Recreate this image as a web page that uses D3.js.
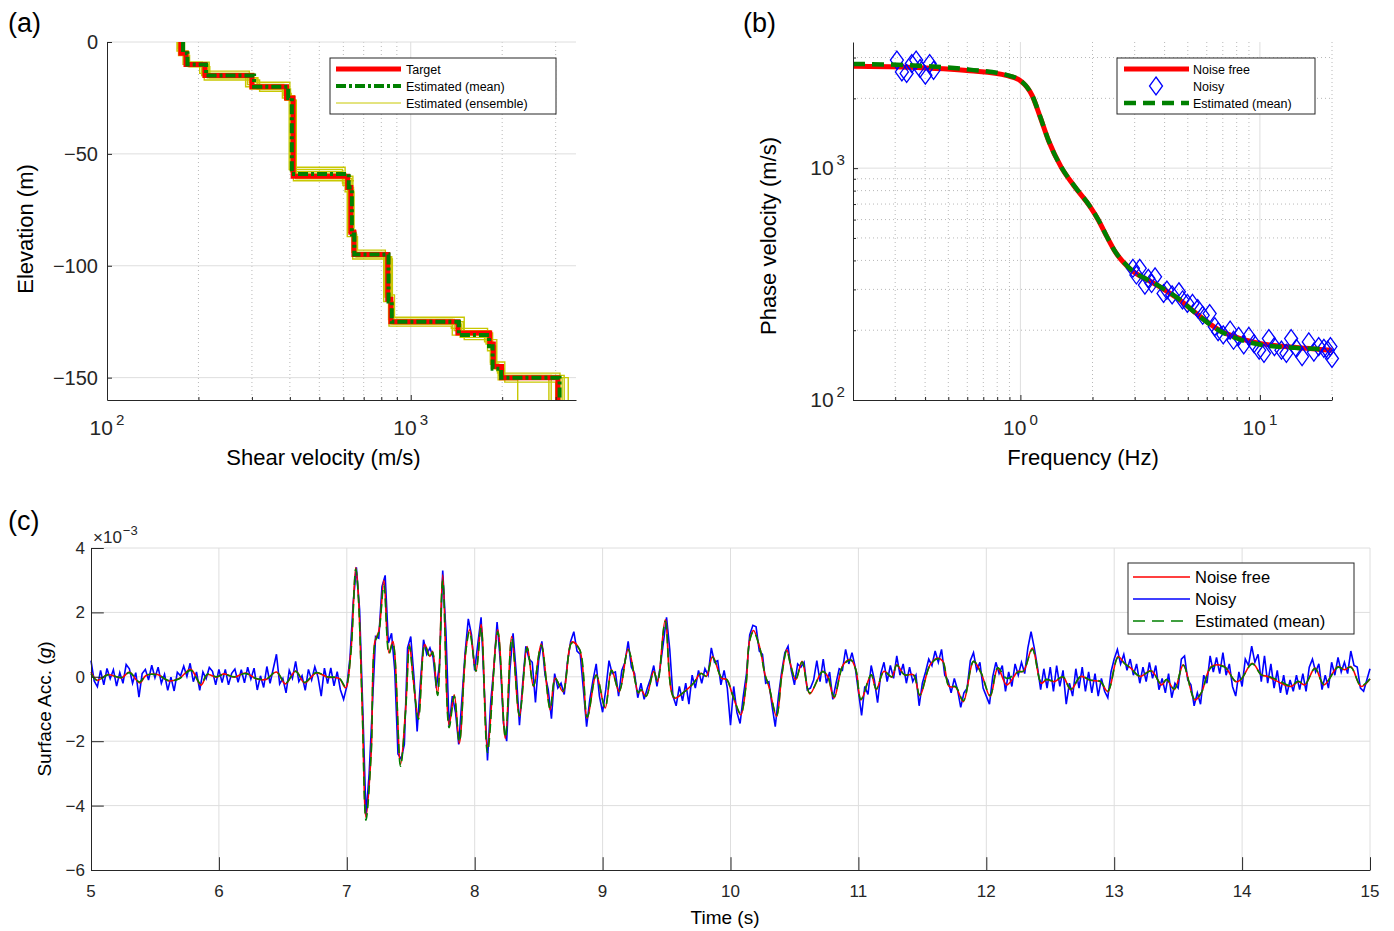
<!DOCTYPE html>
<html>
<head>
<meta charset="utf-8">
<script src="https://cdn.jsdelivr.net/npm/d3@7"></script>
<style>
  body { margin: 0; background: #fff; }
  svg { font-family: "Liberation Sans", Arial, Helvetica, sans-serif; }
</style>
</head>
<body>
<svg id="fig" width="1394" height="931"></svg>
<script>
// ---------------- data : (a) shear velocity profiles ----------------
const profileBottom = 160;
const targetTops = [0, 5, 10, 15, 20, 25, 60, 65, 85, 95, 115, 125, 130, 135, 145, 150];
const targetVs   = [175, 182, 210, 300, 390, 410, 620, 635, 650, 840, 860, 1430, 1820, 1870, 1990, 3050];
const meanTops   = [0, 5, 10, 15, 20, 25, 59, 65, 86, 95, 116, 125, 131, 136, 146, 150];
const meanVs     = [178, 184, 212, 305, 395, 406, 625, 640, 652, 845, 866, 1440, 1810, 1860, 1985, 3090];
const ensembleTops = [
  [0, 4, 10, 14, 19, 24, 58, 64, 84, 94, 114, 124, 129, 134, 144, 149],
  [0, 6, 11, 16, 21, 26, 61, 66, 86, 96, 116, 126, 130, 136, 146, 150],
  [0, 5, 9, 15, 20, 25, 57, 63, 85, 94, 116, 124, 131, 135, 144, 151],
  [0, 5, 10, 16, 20, 24, 60, 66, 84, 96, 114, 125, 129, 137, 145, 149],
  [0, 4, 11, 15, 21, 25, 59, 64, 86, 95, 115, 126, 130, 134, 146, 150],
  [0, 6, 10, 14, 20, 26, 61, 65, 85, 95, 117, 125, 132, 136, 145, 150],
  [0, 5, 11, 17, 22, 23, 56, 67, 83, 97, 118, 127, 128, 138, 143, 152],
  [0, 3, 9, 13, 18, 27, 62, 62, 87, 93, 113, 123, 133, 133, 147, 148]
];
const ensembleVs = [
  [170, 178, 202, 290, 382, 402, 598, 622, 640, 822, 845, 1390, 1750, 1830, 1950, 2900],
  [180, 187, 218, 312, 402, 418, 640, 648, 664, 856, 876, 1470, 1860, 1910, 2030, 3150],
  [176, 183, 206, 286, 378, 398, 596, 620, 646, 815, 852, 1370, 1770, 1845, 1940, 2250],
  [174, 180, 214, 314, 398, 414, 645, 628, 657, 866, 868, 1490, 1835, 1885, 2005, 3200],
  [177, 185, 205, 296, 392, 408, 612, 640, 653, 832, 860, 1415, 1800, 1862, 1978, 2850],
  [172, 182, 216, 304, 386, 420, 628, 648, 661, 848, 880, 1455, 1845, 1895, 2015, 3300],
  [179, 186, 209, 318, 384, 404, 608, 650, 644, 870, 848, 1360, 1790, 1830, 2040, 3000],
  [171, 179, 217, 294, 400, 411, 650, 618, 668, 825, 884, 1500, 1870, 1920, 1930, 3100]
];

// ---------------- data : (b) dispersion curves ----------------
const noiseFreeFreq = [0.2, 0.336, 0.614, 0.88, 1.0, 1.12, 1.21, 1.31, 1.48, 1.67, 1.96, 2.12, 2.30, 2.49, 2.81, 3.72, 4.54, 5.55, 6.78, 8.29, 10.1, 13.9, 20];
const noiseFreeVel  = [2748, 2724, 2630, 2505, 2383, 2055, 1660, 1316, 1010, 842, 679, 595, 505, 435, 375, 313, 274, 232, 200, 184, 175, 169, 164];
const meanFreq = [0.2, 0.336, 0.614, 0.88, 1.0, 1.12, 1.21, 1.31, 1.48, 1.67, 1.96, 2.12, 2.30, 2.49, 2.81, 3.72, 4.54, 5.55, 6.78, 8.29, 10.1, 13.9, 18];
const meanVel  = [2815, 2780, 2660, 2520, 2390, 2060, 1665, 1318, 1012, 845, 680, 596, 505, 436, 376, 314, 275, 231, 199, 182, 173, 168, 166];
const noisyFreq = [0.305, 0.320, 0.335, 0.352, 0.367, 0.381, 0.401, 0.418, 0.434,
  2.95, 3.05, 3.15, 3.31, 3.42, 3.53, 3.65, 3.96, 4.09, 4.30, 4.59, 4.75, 4.98, 5.23, 5.50, 5.77, 6.17, 6.48, 6.69, 7.03,
  7.51, 7.76, 8.15, 8.56, 8.99, 9.45, 9.93, 10.4, 10.9, 11.5, 12.3, 12.9, 13.5, 14.2, 15.0, 16.0, 16.8, 17.6, 18.5, 19.2, 19.7, 20.0];
const noisyVel = [2925, 2601, 2560, 2825, 2925, 2690, 2517, 2825, 2643,
  370, 346, 370, 313, 335, 318, 340, 288, 298, 284, 293, 270, 261, 261, 248, 232, 236, 207, 197, 191,
  200, 181, 188, 173, 188, 175, 164, 159, 184, 170, 164, 159, 184, 167, 154, 178, 161, 170, 167, 164, 170, 151];

// ---------------- data : (c) surface acceleration (x 1e-3 g) ----------------
const noiseFreeT = [5.00,5.05,5.13,5.24,5.30,5.38,5.43,5.52,5.61,5.69,5.78,5.86,5.91,5.98,6.04,6.12,6.21,6.29,6.37,6.45,
  6.52,6.60,6.67,6.76,6.85,6.94,6.99,7.03,7.07,7.09,7.12,7.15,7.19,7.22,7.25,7.29,7.33,7.36,7.42,7.46,
  7.49,7.52,7.56,7.61,7.65,7.67,7.71,7.75,7.80,7.84,7.88,7.93,7.96,8.01,8.05,8.10,8.18,8.24,8.29,8.35,
  8.41,8.46,8.52,8.59,8.63,8.69,8.76,8.82,8.88,8.95,9.02,9.07,9.13,9.20,9.28,9.30,9.34,9.40,9.43,9.49,
  9.56,9.64,9.71,9.77,9.81,9.86,9.93,9.97,10.02,10.08,10.12,10.15,10.18,10.23,10.27,10.30,10.36,10.40,10.44,10.47,
  10.51,10.56,10.62,10.72,10.76,10.81,10.88,10.94,10.98,11.02,11.10,11.14,11.20,11.26,11.30,11.36,11.43,11.48,11.56,11.62,
  11.66,11.71,11.76,11.82,11.90,11.96,12.03,12.09,12.16,12.25,12.29,12.36,12.43,12.47,12.53,12.60,12.66,12.74,12.81,12.89,
  12.95,13.03,13.08,13.13,13.20,13.29,13.37,13.41,13.47,13.54,13.63,13.68,13.76,13.86,13.95,13.99,14.08,14.15,14.20,14.28,
  14.38,14.44,14.49,14.57,14.64,14.75,14.80,14.85,14.93,15.00];
const noiseFreeAcc = [0.15,-0.11,0.07,-0.03,0.15,-0.19,0.04,0.07,-0.13,-0.05,0.23,-0.26,0.07,-0.01,0.09,-0.01,0.12,-0.06,-0.08,0.15,
  -0.22,0.18,-0.19,0.12,-0.01,-0.05,-0.34,0.69,3.39,2.55,-0.86,-4.36,-2.40,1.10,1.41,3.00,0.74,1.10,-2.72,-1.00,
  1.00,-0.10,-1.28,1.00,0.63,0.79,-0.56,3.17,-1.49,-0.56,-2.06,0.79,1.46,0.17,1.62,-2.17,1.46,-1.91,1.25,-1.23,
  0.94,-0.30,1.02,-1.03,-0.04,-0.46,1.08,0.84,-1.28,0.06,-0.97,0.22,-0.46,0.86,-0.51,-0.40,-0.61,0.17,-0.15,1.77,
  -0.66,-0.46,-0.20,0.11,0.01,0.63,-0.04,-0.09,-0.61,-1.18,-0.30,1.15,1.44,0.89,0.06,-0.30,-1.23,0.01,0.84,0.37,
  -0.09,0.48,-0.53,0.17,0.01,-0.66,0.37,0.53,0.22,-0.72,0.06,-0.40,0.17,-0.01,0.37,0.06,0.06,-0.59,0.37,0.58,
  0.48,-0.30,-0.32,-0.77,0.48,0.11,-0.61,0.27,-0.25,0.17,0.17,0.89,-0.20,-0.09,-0.15,-0.01,-0.40,0.01,-0.11,-0.15,
  -0.46,0.63,0.42,0.27,0.01,0.19,-0.25,-0.09,-0.40,0.37,-0.72,-0.51,0.32,0.32,-0.15,-0.09,0.42,0.06,0.01,-0.15,
  -0.30,-0.15,-0.25,0.27,-0.25,0.32,0.22,0.32,-0.30,-0.07];
const estMeanAcc = [0.10,-0.12,0.06,-0.02,0.13,-0.16,0.05,0.06,-0.12,-0.06,0.20,-0.22,0.08,0.00,0.08,0.00,0.10,-0.05,-0.07,0.16,
  -0.20,0.17,-0.17,0.13,0.00,-0.04,-0.30,0.66,3.35,2.50,-0.90,-4.45,-2.42,1.05,1.38,2.85,0.72,1.05,-2.78,-1.05,
  0.95,-0.12,-1.32,0.98,0.60,0.77,-0.58,3.00,-1.58,-0.60,-2.02,0.77,1.40,0.18,1.52,-2.35,1.40,-1.88,1.20,-1.20,
  0.90,-0.28,0.98,-1.00,-0.05,-0.44,1.05,0.85,-1.25,0.05,-0.95,0.20,-0.44,0.84,-0.49,-0.40,-0.60,0.16,-0.14,1.72,
  -0.64,-0.46,-0.20,0.10,0.02,0.60,-0.03,-0.08,-0.60,-1.15,-0.30,1.12,1.40,0.88,0.06,-0.28,-1.20,0.02,0.82,0.36,
  -0.08,0.46,-0.50,0.16,0.02,-0.62,0.35,0.52,0.22,-0.70,0.06,-0.38,0.17,0.00,0.36,0.06,0.06,-0.56,0.36,0.56,
  0.47,-0.30,-0.30,-0.74,0.48,0.12,-0.58,0.28,-0.05,0.15,0.18,0.85,-0.18,-0.08,-0.13,0.00,-0.38,0.02,-0.10,-0.14,
  -0.44,0.60,0.42,0.26,0.02,0.18,-0.24,-0.08,-0.38,0.36,-0.70,-0.50,0.30,0.31,-0.14,-0.08,0.40,0.06,0.02,-0.10,
  -0.28,-0.14,-0.24,0.26,-0.24,0.30,0.22,0.30,-0.28,-0.06];
// noisy record, sampled every 0.025 s from 5 s
const noisyStart = 5, noisyDt = 0.025;
const noisyAcc = [
  0.50,-0.13,-0.31,0.20,-0.25,0.26,-0.06,0.22,-0.29,0.13,-0.20,0.38,0.25,-0.20,0.13,-0.63,0.10,0.23,-0.10,0.36,
  -0.03,0.30,-0.20,0.08,-0.42,-0.01,-0.44,0.14,0.03,0.33,0.01,0.42,-0.15,0.15,-0.42,0.15,-0.06,0.29,0.17,-0.25,
  0.23,-0.18,0.23,-0.25,0.11,0.24,-0.17,0.22,-0.19,0.30,-0.07,0.27,-0.41,0.03,-0.33,0.32,-0.20,0.25,0.70,-0.22,
  -0.05,-0.50,0.20,-0.05,0.48,-0.15,0.03,-0.42,0.23,-0.10,0.31,-0.01,-0.60,0.27,-0.21,0.28,-0.28,0.16,-0.40,-0.70,
  -0.30,0.60,2.30,3.40,2.10,-1.00,-4.30,-3.00,-0.90,1.25,1.20,2.80,3.15,1.05,1.35,0.20,-2.40,-2.55,-2.10,0.90,
  1.25,0.00,-1.70,-0.20,1.15,0.70,0.90,0.60,-0.35,0.40,3.30,1.40,-1.55,-0.60,-1.10,-2.10,-0.70,0.75,1.80,1.30,
  0.20,1.05,1.85,-0.40,-2.60,-0.80,0.30,1.70,0.50,-1.45,-2.00,0.20,1.35,0.10,-1.50,-0.20,0.95,0.55,0.45,-0.80,
  0.50,1.10,0.05,-0.40,-1.30,0.10,-0.35,-0.20,-0.55,0.45,1.10,1.40,0.80,0.70,-0.40,-1.55,-0.70,-0.10,0.40,-0.60,
  -1.10,-0.40,0.50,0.10,0.15,-0.60,0.20,0.45,1.10,0.30,0.10,-0.65,-0.20,-0.70,-0.35,-0.05,0.35,-0.30,0.30,1.05,
  1.85,0.85,-0.60,-0.90,-0.30,-0.75,-0.20,-0.85,0.05,-0.35,0.20,-0.20,0.25,0.05,0.90,0.45,0.50,-0.25,0.20,-0.35,
  -1.50,-0.30,-1.10,-1.45,-0.60,0.10,1.30,1.60,1.55,0.80,0.70,-0.20,-0.15,-0.90,-1.55,-0.60,0.15,0.75,0.95,0.20,
  -0.25,0.40,0.30,0.45,-0.40,-0.35,-0.10,0.50,-0.15,0.55,-0.20,0.15,-0.70,-0.20,0.25,0.20,0.85,0.40,0.75,0.30,
  -0.45,-1.20,-0.30,-0.55,0.35,-0.10,-0.80,0.10,0.45,-0.15,0.35,-0.05,0.65,0.05,0.40,-0.20,0.30,-0.15,0.05,-0.90,
  -0.20,0.15,0.55,0.35,0.80,0.45,0.85,0.05,-0.10,-0.50,-0.05,-0.40,-0.95,-0.50,-0.35,0.50,0.75,0.20,0.45,-0.35,
  -0.60,-0.85,0.00,0.45,0.10,0.35,-0.45,0.15,-0.30,0.40,0.05,0.45,0.10,0.90,1.40,0.90,0.30,-0.40,0.25,-0.35,
  0.30,-0.45,0.35,-0.30,0.20,-0.85,-0.20,-0.60,0.25,-0.35,0.30,-0.45,0.15,-0.50,0.10,-0.60,-0.05,-0.45,-0.65,0.15,
  0.55,0.85,0.40,0.70,0.20,0.55,0.05,0.40,-0.20,0.30,-0.15,0.45,-0.05,0.35,-0.40,-0.05,-0.50,0.10,-0.65,-0.20,
  -0.35,0.55,0.65,-0.10,-0.25,-0.90,-0.50,-0.85,0.05,-0.20,0.65,0.15,0.60,0.10,0.75,0.05,0.40,-0.30,-0.60,0.15,
  -0.30,0.55,0.35,0.95,0.45,0.70,-0.15,0.65,-0.20,0.40,-0.35,0.20,-0.50,0.05,-0.55,-0.10,-0.45,0.05,-0.40,0.10,
  -0.45,0.30,0.55,0.15,0.40,-0.40,0.05,-0.35,0.45,0.05,0.60,0.15,0.45,0.10,0.80,0.35,0.30,-0.35,-0.45,-0.10,
  0.25];

// ---------------- styles ----------------
const axisCol = '#262626', gridCol = '#dedede', minorCol = '#b8b8b8';
const red = '#ff0000', green = '#008000', blue = '#0000ff', yellow = '#c8c800';

const svg = d3.select('#fig');

function gridLinesV(g, vals, x, top, bottom, col, dash) {
  g.append('g').selectAll('line').data(vals).join('line')
    .attr('x1', d => x(d)).attr('x2', d => x(d))
    .attr('y1', top).attr('y2', bottom)
    .attr('stroke', col).attr('stroke-width', 1)
    .attr('stroke-dasharray', dash);
}
function gridLinesH(g, vals, y, left, right, col, dash) {
  g.append('g').selectAll('line').data(vals).join('line')
    .attr('y1', d => y(d)).attr('y2', d => y(d))
    .attr('x1', left).attr('x2', right)
    .attr('stroke', col).attr('stroke-width', 1)
    .attr('stroke-dasharray', dash);
}
function styleAxis(sel) {
  sel.selectAll('path, line').attr('stroke', axisCol).attr('stroke-width', 1);
}
function powLabels(g, vals, xf, yf, anchor, size) {
  const t = g.append('g').selectAll('text').data(vals).join('text')
    .attr('x', d => xf(d)).attr('y', d => yf(d))
    .attr('text-anchor', anchor).attr('font-size', size).attr('fill', axisCol);
  t.append('tspan').text('10');
  t.append('tspan').attr('dx', 3).attr('dy', -size * 0.5).attr('font-size', size * 0.72)
    .text(d => d3.format('d')(Math.round(Math.log10(d))));
}
function panelLabel(x, y, s) {
  svg.append('text').attr('x', x).attr('y', y).attr('font-size', 27).attr('fill', '#000').text(s);
}
function legendBox(g, x, y, w, h) {
  g.append('rect').attr('x', x).attr('y', y).attr('width', w).attr('height', h)
    .attr('fill', '#fff').attr('stroke', axisCol).attr('stroke-width', 1);
}

// ================= (a) =================
const A = {left: 107, right: 576, top: 42, bottom: 400};
const xA = d3.scaleLog().domain([100, 3500]).range([A.left, A.right]);
const yA = d3.scaleLinear().domain([-profileBottom, 0]).range([A.bottom, A.top]);
const gA = svg.append('g');
const minorVA = [200, 300, 400, 500, 600, 700, 800, 900, 2000, 3000];
gridLinesV(gA, minorVA, xA, A.top, A.bottom, minorCol, '1,3');
gridLinesV(gA, [1000], xA, A.top, A.bottom, gridCol, null);
gridLinesH(gA, [0, -50, -100, -150], yA, A.left, A.right, gridCol, null);

function stepPoints(tops, vs) {
  const pts = [];
  tops.forEach((t, i) => {
    const b = i < tops.length - 1 ? tops[i + 1] : profileBottom;
    pts.push([vs[i], -t], [vs[i], -b]);
  });
  return pts;
}
const lineA = d3.line().x(d => xA(d[0])).y(d => yA(d[1]));
ensembleTops.forEach((tops, k) => {
  gA.append('path').attr('d', lineA(stepPoints(tops, ensembleVs[k])))
    .attr('fill', 'none').attr('stroke', yellow).attr('stroke-width', 1.4);
});
gA.append('path').attr('d', lineA(stepPoints(targetTops, targetVs)))
  .attr('fill', 'none').attr('stroke', red).attr('stroke-width', 5);
gA.append('path').attr('d', lineA(stepPoints(meanTops, meanVs)))
  .attr('fill', 'none').attr('stroke', green).attr('stroke-width', 4)
  .attr('stroke-dasharray', '10,3,3,3');

gA.append('g').attr('transform', `translate(${A.left},0)`)
  .call(d3.axisLeft(yA).tickValues([0, -50, -100, -150]).tickSizeInner(-5).tickSizeOuter(0).tickFormat(''))
  .call(styleAxis);
gA.append('g').attr('transform', `translate(0,${A.bottom})`)
  .call(d3.axisBottom(xA).tickValues([100, 1000]).tickSizeInner(-5).tickSizeOuter(0).tickFormat(''))
  .call(styleAxis);
gA.append('g').attr('transform', `translate(0,${A.bottom})`)
  .call(d3.axisBottom(xA).tickValues(minorVA).tickSizeInner(-3).tickSizeOuter(0).tickFormat(''))
  .call(styleAxis).call(g => g.select('.domain').remove());

gA.append('g').selectAll('text').data([0, -50, -100, -150]).join('text')
  .attr('x', A.left - 9).attr('y', d => yA(d) + 7)
  .attr('text-anchor', 'end').attr('font-size', 20).attr('fill', axisCol)
  .text(d => d3.format('d')(d));
powLabels(gA, [100, 1000], d => xA(d), () => 435, 'middle', 21);
gA.append('text').attr('x', (A.left + A.right) / 2 - 18).attr('y', 465)
  .attr('text-anchor', 'middle').attr('font-size', 22).attr('fill', '#000').text('Shear velocity (m/s)');
gA.append('text').attr('transform', `translate(33,${(A.top + A.bottom) / 2 + 8}) rotate(-90)`)
  .attr('text-anchor', 'middle').attr('font-size', 22).attr('fill', '#000').text('Elevation (m)');

// legend (a)
const legA = gA.append('g');
legendBox(legA, 330, 58, 226, 56);
const legAItems = [
  {label: 'Target', col: red, w: 5, dash: null},
  {label: 'Estimated (mean)', col: green, w: 4, dash: '10,3,3,3'},
  {label: 'Estimated (ensemble)', col: yellow, w: 1, dash: null}
];
legAItems.forEach((d, i) => {
  const y = 69 + i * 17;
  legA.append('line').attr('x1', 336).attr('x2', 401).attr('y1', y).attr('y2', y)
    .attr('stroke', d.col).attr('stroke-width', d.w).attr('stroke-dasharray', d.dash);
  legA.append('text').attr('x', 406).attr('y', y + 4.5).attr('font-size', 12.5).attr('fill', '#000').text(d.label);
});
panelLabel(8, 32, '(a)');

// ================= (b) =================
const B = {left: 853, right: 1332, top: 42, bottom: 400};
const xB = d3.scaleLog().domain([0.2, 20]).range([B.left, B.right]);
const yB = d3.scaleLog().domain([100, 3500]).range([B.bottom, B.top]);
const gB = svg.append('g');
const minorVB = [0.3, 0.4, 0.5, 0.6, 0.7, 0.8, 0.9, 2, 3, 4, 5, 6, 7, 8, 9, 20];
const minorHB = [200, 300, 400, 500, 600, 700, 800, 900, 2000, 3000];
gridLinesV(gB, minorVB, xB, B.top, B.bottom, minorCol, '1,3');
gridLinesH(gB, minorHB, yB, B.left, B.right, minorCol, '1,3');
gridLinesV(gB, [1, 10], xB, B.top, B.bottom, gridCol, null);
gridLinesH(gB, [1000], yB, B.left, B.right, gridCol, null);

const lineB = d3.line().x(d => xB(d[0])).y(d => yB(d[1])).curve(d3.curveMonotoneX);
gB.append('path').attr('d', lineB(noiseFreeFreq.map((f, i) => [f, noiseFreeVel[i]])))
  .attr('fill', 'none').attr('stroke', red).attr('stroke-width', 5);
const diamond = 'M0,-9L6.5,0L0,9L-6.5,0Z';
gB.append('g').selectAll('path').data(noisyFreq.map((f, i) => [f, noisyVel[i]])).join('path')
  .attr('transform', d => `translate(${xB(d[0])},${yB(d[1])})`)
  .attr('d', diamond).attr('fill', 'none').attr('stroke', blue).attr('stroke-width', 1.3);
gB.append('path').attr('d', lineB(meanFreq.map((f, i) => [f, meanVel[i]])))
  .attr('fill', 'none').attr('stroke', green).attr('stroke-width', 4.5)
  .attr('stroke-dasharray', '12,7');

gB.append('g').attr('transform', `translate(${B.left},0)`)
  .call(d3.axisLeft(yB).tickValues([100, 1000]).tickSizeInner(-5).tickSizeOuter(0).tickFormat(''))
  .call(styleAxis);
gB.append('g').attr('transform', `translate(${B.left},0)`)
  .call(d3.axisLeft(yB).tickValues(minorHB).tickSizeInner(-3).tickSizeOuter(0).tickFormat(''))
  .call(styleAxis).call(g => g.select('.domain').remove());
gB.append('g').attr('transform', `translate(0,${B.bottom})`)
  .call(d3.axisBottom(xB).tickValues([1, 10]).tickSizeInner(-5).tickSizeOuter(0).tickFormat(''))
  .call(styleAxis);
gB.append('g').attr('transform', `translate(0,${B.bottom})`)
  .call(d3.axisBottom(xB).tickValues(minorVB).tickSizeInner(-3).tickSizeOuter(0).tickFormat(''))
  .call(styleAxis).call(g => g.select('.domain').remove());

powLabels(gB, [100, 1000], () => B.left - 8, d => yB(d) + 7, 'end', 21);
powLabels(gB, [1, 10], d => xB(d), () => 435, 'middle', 21);
gB.append('text').attr('x', 1083).attr('y', 465)
  .attr('text-anchor', 'middle').attr('font-size', 22).attr('fill', '#000').text('Frequency (Hz)');
gB.append('text').attr('transform', `translate(776,236) rotate(-90)`)
  .attr('text-anchor', 'middle').attr('font-size', 22).attr('fill', '#000').text('Phase velocity (m/s)');

const legB = gB.append('g');
legendBox(legB, 1117, 58, 198, 56);
legB.append('line').attr('x1', 1124).attr('x2', 1189).attr('y1', 69).attr('y2', 69)
  .attr('stroke', red).attr('stroke-width', 5);
legB.append('path').attr('transform', 'translate(1156,86)').attr('d', diamond)
  .attr('fill', 'none').attr('stroke', blue).attr('stroke-width', 1.3);
legB.append('line').attr('x1', 1124).attr('x2', 1189).attr('y1', 103).attr('y2', 103)
  .attr('stroke', green).attr('stroke-width', 4.5).attr('stroke-dasharray', '12,7');
['Noise free', 'Noisy', 'Estimated (mean)'].forEach((s, i) => {
  legB.append('text').attr('x', 1193).attr('y', 69 + i * 17 + 4.5)
    .attr('font-size', 12.5).attr('fill', '#000').text(s);
});
panelLabel(743, 32, '(b)');

// ================= (c) =================
const C = {left: 91, right: 1370, top: 548, bottom: 870};
const xC = d3.scaleLinear().domain([5, 15]).range([C.left, C.right]);
const yC = d3.scaleLinear().domain([-6, 4]).range([C.bottom, C.top]);
const gC = svg.append('g');
const xTicksC = d3.range(5, 16);
const yTicksC = [-6, -4, -2, 0, 2, 4];
gridLinesV(gC, xTicksC.slice(1), xC, C.top, C.bottom, gridCol, null);
gridLinesH(gC, yTicksC.slice(1), yC, C.left, C.right, gridCol, null);

const noisyPts = noisyAcc.map((a, i) => [noisyStart + i * noisyDt, a]);
gC.append('path').attr('d', d3.line().x(d => xC(d[0])).y(d => yC(d[1]))(noisyPts))
  .attr('fill', 'none').attr('stroke', blue).attr('stroke-width', 1.6);
const lineC = d3.line().x(d => xC(d[0])).y(d => yC(d[1])).curve(d3.curveCatmullRom.alpha(0.5));
gC.append('path').attr('d', lineC(noiseFreeT.map((t, i) => [t, noiseFreeAcc[i]])))
  .attr('fill', 'none').attr('stroke', red).attr('stroke-width', 1.6);
gC.append('path').attr('d', lineC(noiseFreeT.map((t, i) => [t, estMeanAcc[i]])))
  .attr('fill', 'none').attr('stroke', green).attr('stroke-width', 1.6)
  .attr('stroke-dasharray', '9,5');

gC.append('g').attr('transform', `translate(${C.left},0)`)
  .call(d3.axisLeft(yC).tickValues(yTicksC).tickSizeInner(-12.8).tickSizeOuter(0).tickFormat(''))
  .call(styleAxis);
gC.append('g').attr('transform', `translate(0,${C.bottom})`)
  .call(d3.axisBottom(xC).tickValues(xTicksC).tickSizeInner(-12.8).tickSizeOuter(0).tickFormat(''))
  .call(styleAxis);
gC.append('g').selectAll('text').data(yTicksC).join('text')
  .attr('x', C.left - 6).attr('y', d => yC(d) + 6)
  .attr('text-anchor', 'end').attr('font-size', 17).attr('fill', axisCol)
  .text(d => d3.format('d')(d));
gC.append('g').selectAll('text').data(xTicksC).join('text')
  .attr('x', d => xC(d)).attr('y', 897)
  .attr('text-anchor', 'middle').attr('font-size', 17).attr('fill', axisCol)
  .text(d => d3.format('d')(d));
const expC = gC.append('text').attr('x', 93).attr('y', 543).attr('font-size', 17).attr('fill', axisCol);
expC.append('tspan').text('×10');
expC.append('tspan').attr('dx', 1).attr('dy', -8).attr('font-size', 13).text('−3');
gC.append('text').attr('x', 725).attr('y', 924)
  .attr('text-anchor', 'middle').attr('font-size', 19).attr('fill', '#000').text('Time (s)');
const yLabC = gC.append('text').attr('transform', `translate(51,${(C.top + C.bottom) / 2}) rotate(-90)`)
  .attr('text-anchor', 'middle').attr('font-size', 19).attr('fill', '#000');
yLabC.append('tspan').text('Surface Acc. (');
yLabC.append('tspan').attr('font-style', 'italic').text('g');
yLabC.append('tspan').text(')');

const legC = gC.append('g');
legendBox(legC, 1128, 563, 226, 71);
const legCItems = [
  {label: 'Noise free', col: red, dash: null},
  {label: 'Noisy', col: blue, dash: null},
  {label: 'Estimated (mean)', col: green, dash: '12,7'}
];
legCItems.forEach((d, i) => {
  const y = 577 + i * 22;
  legC.append('line').attr('x1', 1133).attr('x2', 1190).attr('y1', y).attr('y2', y)
    .attr('stroke', d.col).attr('stroke-width', 1.5).attr('stroke-dasharray', d.dash);
  legC.append('text').attr('x', 1195).attr('y', y + 6).attr('font-size', 16.5).attr('fill', '#000').text(d.label);
});
panelLabel(8, 530, '(c)');
</script>
</body>
</html>
